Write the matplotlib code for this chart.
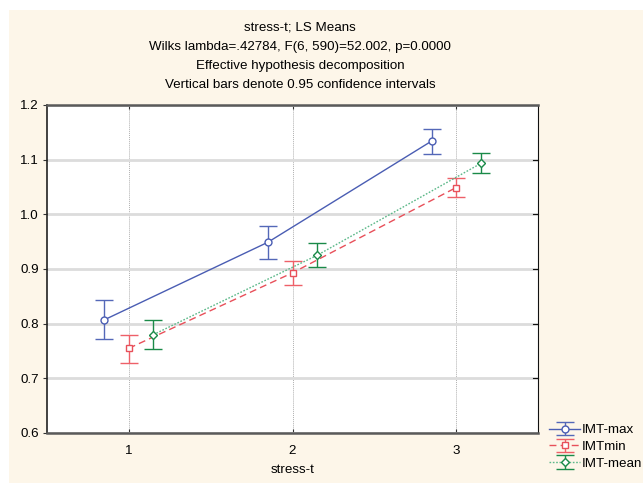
import matplotlib
matplotlib.use("Agg")
import matplotlib.pyplot as plt
from matplotlib.patches import Rectangle
import numpy as np

plt.rcParams["font.family"] = ["Liberation Sans", "DejaVu Sans"]

stress_levels = [1, 2, 3]
series_names = ["IMT-max", "IMTmin", "IMT-mean"]
offsets = [-0.15, 0.0, 0.15]

imt_max = [0.807, 0.949, 1.134]
imt_max_lo = [0.772, 0.918, 1.110]
imt_max_hi = [0.843, 0.978, 1.157]

imt_min = [0.755, 0.893, 1.049]
imt_min_lo = [0.728, 0.871, 1.032]
imt_min_hi = [0.780, 0.914, 1.066]

imt_mean = [0.780, 0.925, 1.093]
imt_mean_lo = [0.754, 0.903, 1.076]
imt_mean_hi = [0.807, 0.947, 1.112]

title_lines = ["stress-t; LS Means",
               "Wilks lambda=.42784, F(6, 590)=52.002, p=0.0000",
               "Effective hypothesis decomposition",
               "Vertical bars denote 0.95 confidence intervals"]

FS = 9.6
W, H = 643, 483
fig = plt.figure(figsize=(W / 100, H / 100), dpi=100, facecolor="white")
fig.patches.append(Rectangle((9 / W, 0), 1 - 9 / W, 1 - 10 / H, transform=fig.transFigure,
                             facecolor="#fdf6e9", edgecolor="none", zorder=-10))
ax = fig.add_axes([47 / W, 1 - 433 / H, (538 - 47) / W, (433 - 105) / H])
ax.set_facecolor("white")

styles = [
    dict(color="#4a5db3", ls="-", marker="o", ms=5, ecolor="#5468b8"),
    dict(color="#e8505a", ls=(0, (5, 3)), marker="s", ms=5, ecolor="#ee6068"),
    dict(color="#5cb889", ls=(0, (1.2, 1.2)), marker="D", ms=4, ecolor="#1a8a48"),
]
data = [(imt_max, imt_max_lo, imt_max_hi),
        (imt_min, imt_min_lo, imt_min_hi),
        (imt_mean, imt_mean_lo, imt_mean_hi)]

handles = []
for name, off, st, (m, lo, hi) in zip(series_names, offsets, styles, data):
    x = np.array(stress_levels) + off
    m, lo, hi = np.array(m), np.array(lo), np.array(hi)
    mec = st["ecolor"] if st["marker"] == "D" else st["color"]
    h = ax.errorbar(x, m, yerr=[m - lo, hi - m], color=st["color"], ls=st["ls"], lw=1.0,
                    marker=st["marker"], ms=st["ms"], mfc="white", mec=mec, mew=1.0,
                    ecolor=st["ecolor"], elinewidth=1.0, capsize=6.5, capthick=1.0,
                    label=name, zorder=3)
    handles.append(h)

ax.set_xlim(0.5, 3.5)
ax.set_ylim(0.6, 1.2)
ax.set_xticks(stress_levels)
ax.set_yticks(np.round(np.arange(0.6, 1.21, 0.1), 1))
ax.set_yticklabels([f"{v:.1f}" for v in np.arange(0.6, 1.21, 0.1)])

ax.yaxis.grid(True, color="#dcdcdc", lw=2.0, zorder=0)
ax.xaxis.grid(True, color="#b0b0b0", lw=0.7, ls=(0, (1, 1)), zorder=0)
ax.set_axisbelow(True)

for side in ["top", "bottom"]:
    ax.spines[side].set_color("#5a5a5a")
    ax.spines[side].set_linewidth(1.8)
ax.spines["left"].set_color("#222222")
ax.spines["left"].set_linewidth(1.2)
ax.spines["right"].set_color("#111111")
ax.spines["right"].set_linewidth(0.8)

ax.tick_params(axis="x", direction="in", length=3, top=True, bottom=True,
               labelsize=FS, pad=9, color="#333333")
ax.tick_params(axis="y", direction="out", length=3, left=True, right=False,
               labelsize=FS, pad=3, color="#333333")
for yv in np.arange(0.7, 1.2, 0.1):
    ax.plot([1.0, 0.99], [yv, yv], transform=ax.get_yaxis_transform(), color="#111111",
            lw=0.8, clip_on=False)

ax.set_xlabel("stress-t", fontsize=FS, labelpad=5)

for i, line in enumerate(title_lines):
    fig.text(300 / W, 1 - (28 + 19 * i) / H, line, ha="center", va="center", fontsize=FS)

leg = fig.legend(handles=handles, labels=series_names, loc="lower left",
                 bbox_to_anchor=(540 / W, 1 - 479 / H), frameon=False, fontsize=FS,
                 handlelength=2.3, handletextpad=0.15, labelspacing=0.33, borderpad=0.2)

fig.savefig("out.png", dpi=100, facecolor=fig.get_facecolor())
